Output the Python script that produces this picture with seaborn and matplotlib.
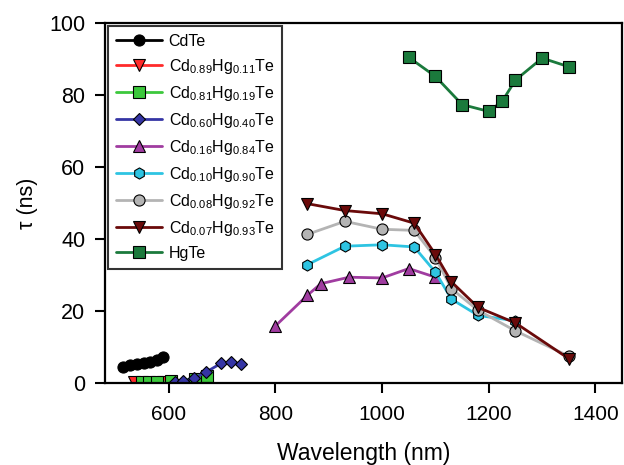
import matplotlib
matplotlib.use('Agg')
import matplotlib.pyplot as plt
import seaborn as sns

# data
cdte_x = [515, 527, 540, 553, 565, 578, 590]
cdte_y = [4.5, 5.0, 5.3, 5.6, 6.0, 6.5, 7.2]

cd089_x = [535, 590, 650]
cd089_y = [0.2, 0.3, 0.3]

cd081_x = [550, 563, 577, 605, 650, 672]
cd081_y = [0.2, 0.2, 0.2, 0.5, 1.2, 2.0]

cd060_x = [611, 627, 647, 670, 698, 716, 736]
cd060_y = [0.2, 0.6, 1.3, 3.1, 5.5, 5.9, 5.2]

cd016_x = [800, 860, 885, 938, 1000, 1050, 1100]
cd016_y = [15.9, 24.4, 27.6, 29.4, 29.2, 31.8, 29.4]

cd010_x = [860, 930, 1000, 1060, 1100, 1130, 1180, 1250]
cd010_y = [32.9, 38.0, 38.4, 37.8, 30.8, 23.3, 18.8, 17.3]

cd008_x = [860, 930, 1000, 1060, 1100, 1130, 1180, 1250, 1350]
cd008_y = [41.3, 44.9, 42.7, 42.4, 34.8, 26.2, 20.2, 14.5, 7.5]

cd007_x = [860, 930, 1000, 1060, 1100, 1130, 1180, 1250, 1350]
cd007_y = [49.8, 47.9, 47.0, 44.4, 35.7, 28.1, 21.0, 16.7, 6.8]

hgte_x = [1050, 1100, 1150, 1200, 1225, 1250, 1300, 1350]
hgte_y = [90.4, 85.1, 77.3, 75.4, 78.2, 84.1, 90.2, 87.8]

series = [
    ('CdTe', cdte_x, cdte_y, 'black', 'o'),
    (r'Cd$_\mathregular{0.89}$Hg$_\mathregular{0.11}$Te', cd089_x, cd089_y, '#ff2a2a', 'v'),
    (r'Cd$_\mathregular{0.81}$Hg$_\mathregular{0.19}$Te', cd081_x, cd081_y, '#3cc83c', 's'),
    (r'Cd$_\mathregular{0.60}$Hg$_\mathregular{0.40}$Te', cd060_x, cd060_y, '#3535a5', 'D'),
    (r'Cd$_\mathregular{0.16}$Hg$_\mathregular{0.84}$Te', cd016_x, cd016_y, '#a03ca0', '^'),
    (r'Cd$_\mathregular{0.10}$Hg$_\mathregular{0.90}$Te', cd010_x, cd010_y, '#2ec4e2', 'h'),
    (r'Cd$_\mathregular{0.08}$Hg$_\mathregular{0.92}$Te', cd008_x, cd008_y, '#b4b4b4', 'o'),
    (r'Cd$_\mathregular{0.07}$Hg$_\mathregular{0.93}$Te', cd007_x, cd007_y, '#6a0a0a', 'v'),
    ('HgTe', hgte_x, hgte_y, '#1b7a3c', 's'),
]

sns.set_style('ticks')
plt.rcParams['font.family'] = ['Liberation Sans', 'DejaVu Sans']
plt.rcParams['mathtext.fontset'] = 'custom'
plt.rcParams['mathtext.rm'] = 'Liberation Sans'
for k in ['axes.edgecolor', 'text.color', 'xtick.color', 'ytick.color', 'axes.labelcolor']:
    plt.rcParams[k] = 'black'

fig = plt.figure(figsize=(6.24, 4.65), dpi=100)
ax = fig.add_axes([0.168, 0.176, 0.829, 0.775])

for label, xs, ys, col, mk in series:
    ms = 8.5 if mk in ('v', '^') else (6.5 if mk == 'D' else 8)
    sns.lineplot(x=xs, y=ys, ax=ax, color=col, marker=mk, markersize=ms,
                 markeredgecolor='black', markeredgewidth=0.8,
                 linewidth=2.0, label=label)

ax.set_xlim(480, 1450)
ax.set_ylim(0, 100)
ax.set_xticks([600, 800, 1000, 1200, 1400])
ax.set_yticks([0, 20, 40, 60, 80, 100])
ax.set_xlabel('Wavelength (nm)', fontsize=16.5, labelpad=13)
ax.set_ylabel('τ (ns)', fontsize=15.5, labelpad=8)
ax.tick_params(axis='x', labelsize=15, length=7, width=1.5, direction='out', pad=9)
ax.tick_params(axis='y', labelsize=15.5, length=7, width=1.5, direction='out', pad=7)

for side in ['left', 'bottom', 'top', 'right']:
    ax.spines[side].set_linewidth(1.6)

leg = ax.legend(loc='upper left', fontsize=11.5, frameon=True, fancybox=False,
                borderaxespad=0.2, handlelength=2.9, labelspacing=0.5,
                handletextpad=0.4, borderpad=0.5)
leg.get_frame().set_edgecolor('black')
leg.get_frame().set_linewidth(1.5)

fig.savefig('out.png', dpi=100)
